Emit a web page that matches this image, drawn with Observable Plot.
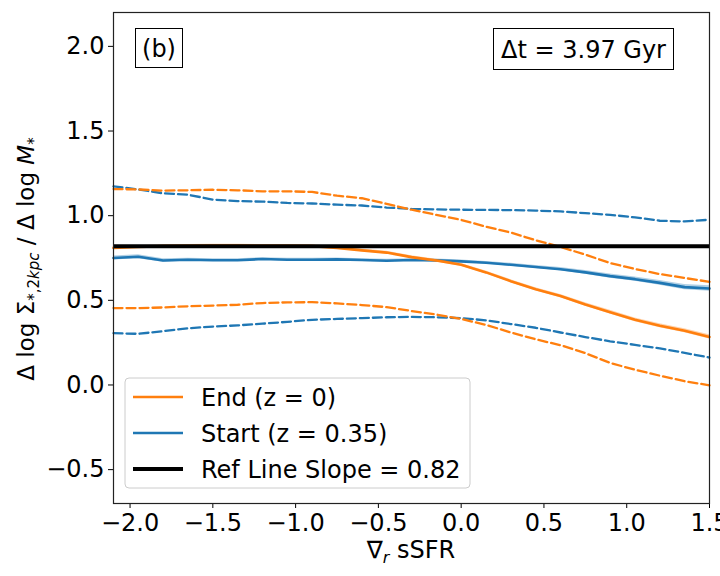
<!DOCTYPE html>
<html>
<head>
<meta charset="utf-8">
<script src="https://cdn.jsdelivr.net/npm/d3@7"></script>
<script src="https://cdn.jsdelivr.net/npm/@observablehq/plot@0.6"></script>
<style>
  html, body { margin: 0; padding: 0; background: white; }
  #chart { width: 720px; height: 576px; }
</style>
</head>
<body>
<div id="chart"></div>
<script>
// ---- data ----
const gradSSFR = [-2.1,-1.95,-1.8,-1.65,-1.5,-1.35,-1.2,-1.05,-0.9,-0.75,-0.6,-0.45,-0.3,-0.15,0,0.15,0.3,0.45,0.6,0.75,0.9,1.05,1.2,1.35,1.5];

const endMedian   = [0.81,0.815,0.82,0.822,0.823,0.823,0.822,0.822,0.82,0.81,0.795,0.782,0.755,0.735,0.71,0.665,0.613,0.565,0.525,0.475,0.43,0.385,0.35,0.32,0.284];
const endUpper    = [1.157,1.155,1.148,1.15,1.153,1.15,1.144,1.144,1.14,1.118,1.103,1.07,1.035,1.005,0.975,0.935,0.9,0.855,0.815,0.77,0.72,0.685,0.655,0.632,0.609];
const endLower    = [0.454,0.454,0.458,0.465,0.469,0.474,0.484,0.488,0.489,0.482,0.472,0.46,0.437,0.416,0.39,0.355,0.31,0.27,0.235,0.188,0.13,0.09,0.055,0.022,-0.002];
const endErr      = [0.008,0.008,0.008,0.008,0.008,0.008,0.008,0.008,0.008,0.008,0.008,0.008,0.008,0.008,0.008,0.008,0.009,0.009,0.01,0.01,0.011,0.011,0.012,0.012,0.013];

const startMedian = [0.75,0.757,0.735,0.74,0.737,0.737,0.744,0.74,0.74,0.742,0.738,0.734,0.738,0.736,0.73,0.722,0.71,0.697,0.684,0.665,0.643,0.625,0.603,0.578,0.57];
const startUpper  = [1.173,1.155,1.132,1.124,1.095,1.086,1.083,1.075,1.072,1.065,1.06,1.048,1.04,1.037,1.035,1.034,1.033,1.03,1.025,1.015,1.005,0.99,0.97,0.966,0.976];
const startLower  = [0.306,0.302,0.318,0.335,0.345,0.352,0.362,0.373,0.385,0.39,0.395,0.4,0.402,0.4,0.395,0.382,0.36,0.338,0.31,0.283,0.258,0.237,0.216,0.19,0.162];
const startErr    = [0.012,0.012,0.01,0.008,0.008,0.008,0.008,0.008,0.008,0.008,0.008,0.008,0.008,0.008,0.008,0.008,0.009,0.009,0.01,0.011,0.012,0.013,0.014,0.015,0.016];

const refSlope = 0.82;
const xTicks = [-2.0,-1.5,-1.0,-0.5,0.0,0.5,1.0,1.5];
const yTicks = [-0.5,0.0,0.5,1.0,1.5,2.0];
const legendLabels = ["End (z = 0)", "Start (z = 0.35)", "Ref Line Slope = 0.82"];
const panelLabel = "(b)";
const deltaTLabel = "\u0394t = 3.97 Gyr";

const ORANGE = "#ff7f0e", BLUE = "#1f77b4";

function rows(med, up, lo, err) {
  return gradSSFR.map((x, i) => ({x, med: med[i], up: up[i], lo: lo[i], b1: med[i] - err[i], b2: med[i] + err[i]}));
}
const endRows = rows(endMedian, endUpper, endLower, endErr);
const startRows = rows(startMedian, startUpper, startLower, startErr);

const fmt = d3.format(".1f");
const FS = 24;

const chart = Plot.plot({
  width: 720,
  height: 576,
  marginLeft: 113,
  marginRight: 11,
  marginTop: 12,
  marginBottom: 73,
  style: {fontFamily: "DejaVu Sans", fontSize: FS + "px", color: "black", background: "white"},
  x: {domain: [-2.1, 1.5], label: null},
  y: {domain: [-0.7, 2.2], label: null},
  marks: [
    // start (blue)
    Plot.areaY(startRows, {x: "x", y1: "b1", y2: "b2", fill: BLUE, fillOpacity: 0.35}),
    Plot.line(startRows, {x: "x", y: "med", stroke: BLUE, strokeWidth: 2.6}),
    Plot.line(startRows, {x: "x", y: "up", stroke: BLUE, strokeWidth: 2.3, strokeDasharray: "9,4"}),
    Plot.line(startRows, {x: "x", y: "lo", stroke: BLUE, strokeWidth: 2.3, strokeDasharray: "9,4"}),
    // end (orange)
    Plot.areaY(endRows, {x: "x", y1: "b1", y2: "b2", fill: ORANGE, fillOpacity: 0.35}),
    Plot.line(endRows, {x: "x", y: "med", stroke: ORANGE, strokeWidth: 2.6}),
    Plot.line(endRows, {x: "x", y: "up", stroke: ORANGE, strokeWidth: 2.3, strokeDasharray: "9,4"}),
    Plot.line(endRows, {x: "x", y: "lo", stroke: ORANGE, strokeWidth: 2.3, strokeDasharray: "9,4"}),
    // reference line
    Plot.ruleY([refSlope], {stroke: "black", strokeWidth: 4}),
    Plot.axisX({ticks: xTicks, tickFormat: fmt, tickSize: 5, tickPadding: 5, fontSize: FS, label: null}),
    Plot.axisY({ticks: yTicks, tickFormat: fmt, tickSize: 5, tickPadding: 4, fontSize: FS, label: null}),
    Plot.frame({stroke: "#222", strokeWidth: 1.2})
  ]
});

document.getElementById("chart").appendChild(chart);

const svg = d3.select(chart);
const g = svg.append("g").attr("font-family", "DejaVu Sans").attr("fill", "black")
  .attr("text-anchor", "start");

// panel label box
g.append("rect").attr("x", 135.5).attr("y", 28.5).attr("width", 47).attr("height", 39)
  .attr("fill", "white").attr("stroke", "black").attr("stroke-width", 1);
g.append("text").attr("x", 159).attr("y", 56.5).attr("text-anchor", "middle")
  .attr("font-size", FS).text(panelLabel);

// delta t box
g.append("rect").attr("x", 493.5).attr("y", 28.5).attr("width", 180).attr("height", 41)
  .attr("fill", "white").attr("stroke", "black").attr("stroke-width", 1);
g.append("text").attr("x", 583.5).attr("y", 57.5).attr("text-anchor", "middle")
  .attr("font-size", FS).text(deltaTLabel);

// legend
g.append("rect").attr("x", 125).attr("y", 378).attr("width", 345).attr("height", 110)
  .attr("rx", 4).attr("fill", "white").attr("fill-opacity", 0.8)
  .attr("stroke", "#cccccc").attr("stroke-width", 1);
const legColors = [ORANGE, BLUE, "black"];
const legWidths = [2.6, 2.6, 4];
legendLabels.forEach((lab, i) => {
  const yy = 397 + i * 36;
  g.append("line").attr("x1", 133).attr("x2", 183).attr("y1", yy).attr("y2", yy)
    .attr("stroke", legColors[i]).attr("stroke-width", legWidths[i]);
  g.append("text").attr("x", 201).attr("y", yy + 8.5).attr("text-anchor", "start")
    .attr("font-size", FS).text(lab);
});

// y label
const yl = g.append("text").attr("transform", "translate(34,259) rotate(-90)")
  .attr("text-anchor", "middle").attr("font-size", 23);
yl.append("tspan").text("\u0394 log \u03A3");
yl.append("tspan").attr("font-size", 15).attr("dy", 5).text("*,2");
yl.append("tspan").attr("font-size", 15).attr("font-style", "italic").text("kpc");
yl.append("tspan").attr("dy", -5).text(" / \u0394 log ");
yl.append("tspan").attr("font-style", "italic").text("M");
yl.append("tspan").attr("font-size", 15).attr("dy", 5).text("*");

// x label
const xl = g.append("text").attr("x", 411).attr("y", 558).attr("text-anchor", "middle").attr("font-size", FS);
xl.append("tspan").text("\u2207");
xl.append("tspan").attr("font-size", 16).attr("font-style", "italic").attr("dy", 5).text("r");
xl.append("tspan").attr("dy", -5).text(" sSFR");
</script>
</body>
</html>
